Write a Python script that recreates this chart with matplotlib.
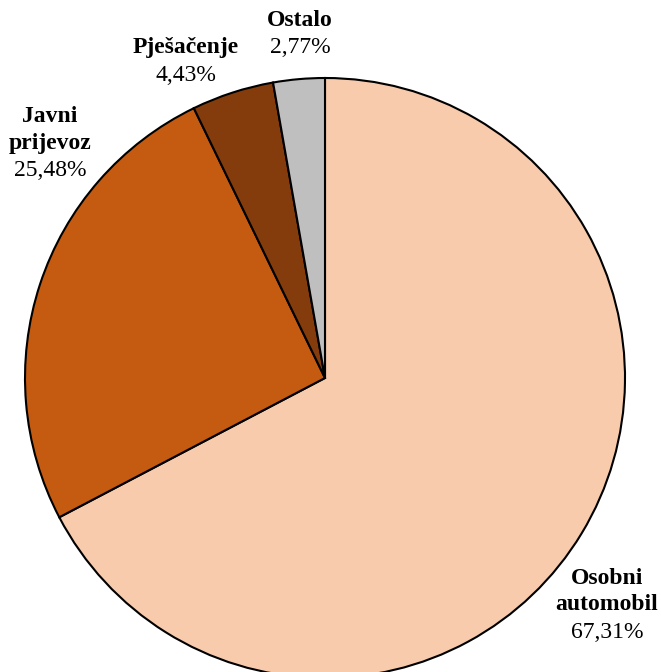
import numpy as np
import matplotlib
matplotlib.use("Agg")
import matplotlib.pyplot as plt

categories = ["Osobni\nautomobil", "Javni\nprijevoz", "Pješačenje", "Ostalo"]
shares = [67.31, 25.48, 4.43, 2.77]
colors = ["#F8CBAD", "#C55A11", "#843C0C", "#BFBFBF"]
# label anchor (pixel coords, top-left origin)
label_pos = [(607, 578), (50, 117), (186, 48), (300, 20)]

W, H = 661, 672
fig = plt.figure(figsize=(W / 100, H / 100), dpi=100)
ax = fig.add_axes([0, 0, 1, 1])

cx, cy, r = 325, H - 378, 300
ax.pie(shares, colors=colors, startangle=90, counterclock=False,
       center=(cx, cy), radius=r, frame=True,
       wedgeprops=dict(edgecolor="black", linewidth=1.5))
ax.set_xlim(0, W)
ax.set_ylim(0, H)
ax.set_aspect("equal")
ax.axis("off")

line_h = 26.5
for cat, val, (lx, ly) in zip(categories, shares, label_pos):
    lines = cat.split("\n")
    for i, ln in enumerate(lines):
        ax.text(lx, H - (ly + i * line_h), ln, ha="center", va="center",
                fontsize=17, fontweight="bold", family="Liberation Serif")
    pct = ("%.2f%%" % val).replace(".", ",")
    ax.text(lx, H - (ly + len(lines) * line_h + 1), pct, ha="center", va="center",
            fontsize=17, family="Liberation Serif")

fig.savefig("out.png", dpi=100)
